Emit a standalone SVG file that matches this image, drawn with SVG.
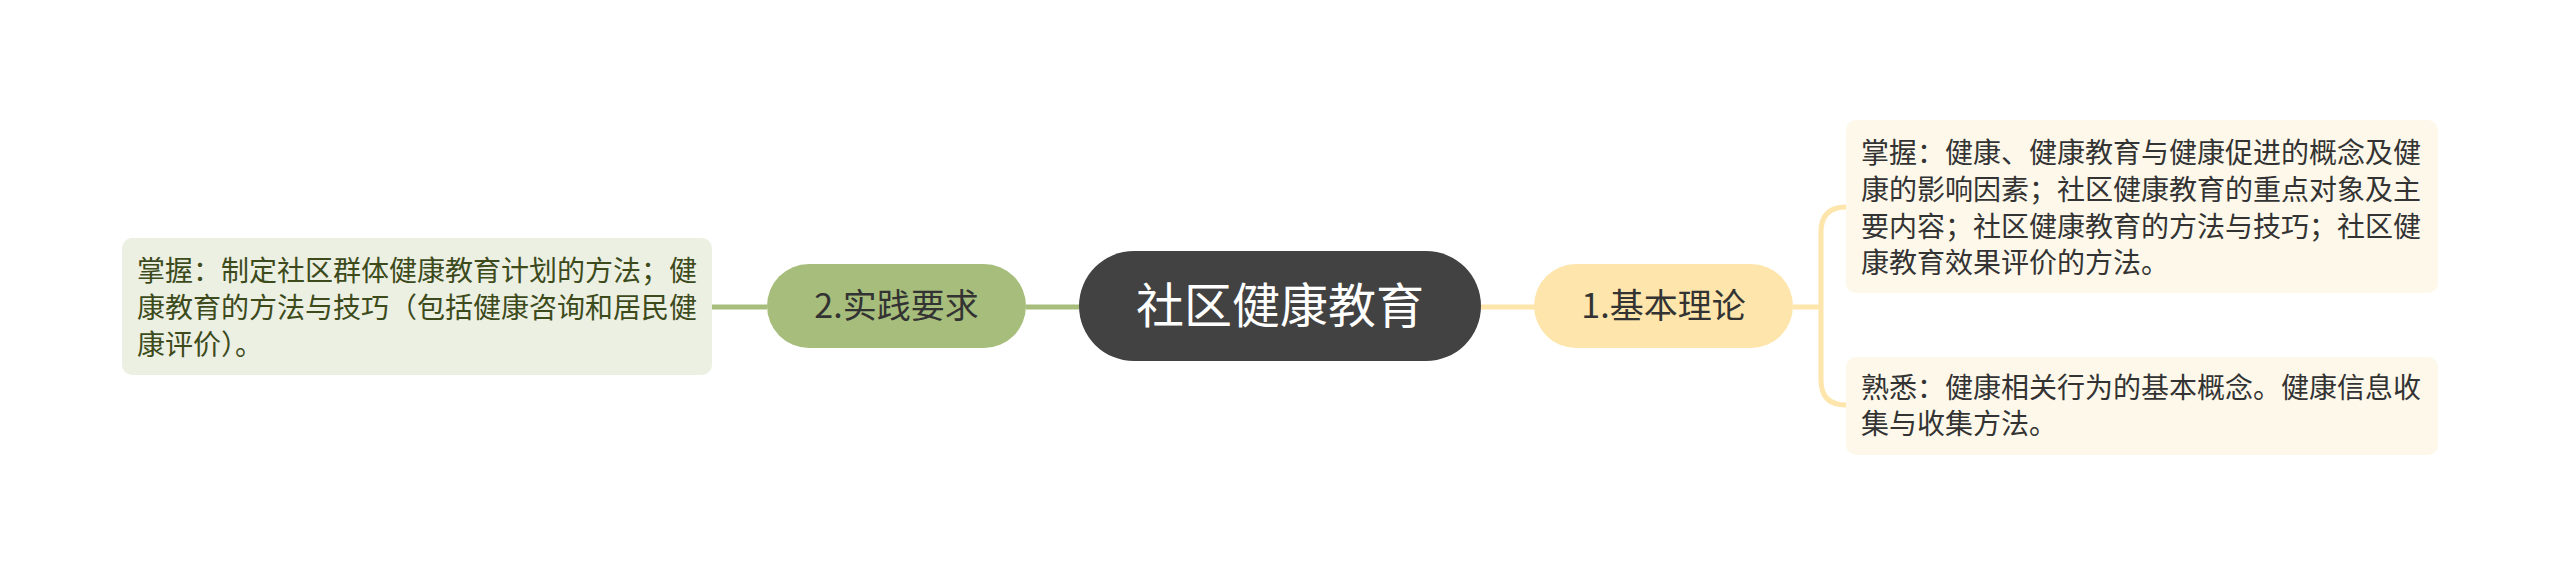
<svg xmlns="http://www.w3.org/2000/svg" width="2560" height="577" viewBox="0 0 2560 577">
<style>
text{font-family:"Noto Sans CJK SC","Liberation Sans",sans-serif;}
.leafY{fill:#fdf8ea;}
.leafG{fill:#ecf0e2;}
.lt{font-size:28px;fill:#333333;}
.ltg{font-size:28px;fill:#3d4b1c;}
.sub{font-size:34px;fill:#333333;text-anchor:middle;}
.cY{stroke:#fde5ab;stroke-width:5;fill:none;}
.cG{stroke:#a6bd7b;stroke-width:5;fill:none;}
</style>
<rect width="2560" height="577" fill="#ffffff"/>
<g id="connectors">
<path class="cY" d="M1481,307 H1535"/>
<path class="cG" d="M1026,307 H1079"/>
<path class="cG" d="M712,307 H767"/>
<path class="cY" stroke-width="4" d="M1793,307 H1821"/>
<path class="cY" stroke-width="4" d="M1846,207 Q1821,207 1821,232 V380 Q1821,405 1846,405"/>
</g>
<g id="center">
<rect x="1079" y="251" width="402" height="110" rx="55" fill="#424242"/>
<text x="1280" y="323" font-size="48" fill="#ffffff" text-anchor="middle">社区健康教育</text>
</g>
<g id="n1">
<rect x="1534" y="264" width="259" height="84" rx="42" fill="#fde5ab"/>
<text class="sub" x="1663.5" y="318">1.基本理论</text>
</g>
<g id="n2">
<rect x="767" y="264" width="259" height="84" rx="42" fill="#a6bd7b"/>
<text class="sub" x="896.5" y="318">2.实践要求</text>
</g>
<g id="leaf1">
<rect class="leafY" x="1846" y="120" width="592" height="173" rx="10"/>
<text class="lt" x="1861" y="163">掌握：健康、健康教育与健康促进的概念及健</text>
<text class="lt" x="1861" y="200">康的影响因素；社区健康教育的重点对象及主</text>
<text class="lt" x="1861" y="237">要内容；社区健康教育的方法与技巧；社区健</text>
<text class="lt" x="1861" y="273">康教育效果评价的方法。</text>
</g>
<g id="leaf2">
<rect class="leafY" x="1846" y="357" width="592" height="98" rx="10"/>
<text class="lt" x="1861" y="398">熟悉：健康相关行为的基本概念。健康信息收</text>
<text class="lt" x="1861" y="434">集与收集方法。</text>
</g>
<g id="leaf3">
<rect class="leafG" x="122" y="238" width="590" height="137" rx="10"/>
<text class="ltg" x="137" y="281">掌握：制定社区群体健康教育计划的方法；健</text>
<text class="ltg" x="137" y="318">康教育的方法与技巧（包括健康咨询和居民健</text>
<text class="ltg" x="137" y="355">康评价）。</text>
</g>
</svg>
